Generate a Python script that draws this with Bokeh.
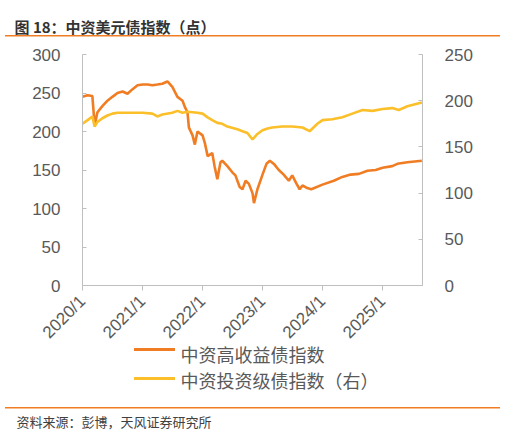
import pandas as pd
from bokeh.plotting import figure
from bokeh.models import (Range1d, LinearAxis, FixedTicker, Title)
from bokeh.embed import file_html
from bokeh.resources import INLINE

# ---------------- data ----------------
hy_dates = ["2020-01-01", "2020-02-01", "2020-03-01", "2020-03-15", "2020-04-01", "2020-05-01",
            "2020-06-01", "2020-07-01", "2020-08-01", "2020-09-01", "2020-10-01", "2020-11-01",
            "2020-12-01", "2021-01-01", "2021-02-01", "2021-03-01", "2021-04-01", "2021-05-01",
            "2021-06-01", "2021-07-01", "2021-08-01", "2021-09-01", "2021-09-15", "2021-10-01",
            "2021-10-10", "2021-11-01", "2021-11-15", "2021-12-01", "2022-01-01", "2022-01-15",
            "2022-02-01", "2022-03-01", "2022-03-15", "2022-04-01", "2022-04-20", "2022-05-01",
            "2022-06-01", "2022-07-01", "2022-07-20", "2022-08-15", "2022-09-01", "2022-09-20",
            "2022-10-10", "2022-11-01", "2022-11-10", "2022-12-01", "2023-01-01", "2023-01-25",
            "2023-02-15", "2023-03-15", "2023-04-10", "2023-05-10", "2023-06-10", "2023-07-01",
            "2023-07-25", "2023-08-15", "2023-09-01", "2023-09-25", "2023-10-25", "2024-01-01",
            "2024-03-10", "2024-05-01", "2024-06-20", "2024-08-10", "2024-10-01", "2024-11-20",
            "2025-01-01", "2025-03-01", "2025-04-01", "2025-06-01", "2025-08-28"]
hy_values = [245, 247, 246, 208, 225, 233,
             240, 245, 250, 252, 249, 255,
             260, 261, 261, 260, 261, 262,
             265, 258, 245, 240, 232, 225,
             205, 195, 183, 200, 195, 185,
             168, 172, 155, 138, 160, 162,
             155, 147, 143, 128, 125, 136,
             132, 120, 107, 125, 144, 158,
             162, 157, 150, 144, 136, 143,
             133, 125, 130, 127, 125, 131,
             136, 141, 144, 145, 149, 150,
             153, 155, 158, 160, 162]

ig_dates = ["2020-01-01", "2020-02-01", "2020-03-01", "2020-03-15", "2020-04-01", "2020-05-01",
            "2020-06-01", "2020-07-01", "2020-08-01", "2020-10-01", "2020-12-01", "2021-01-01",
            "2021-03-01", "2021-04-01", "2021-05-01", "2021-07-01", "2021-08-01", "2021-09-01",
            "2021-10-01", "2021-12-01", "2022-01-01", "2022-02-01", "2022-03-01", "2022-04-01",
            "2022-05-01", "2022-06-01", "2022-08-01", "2022-09-01", "2022-10-01", "2022-11-01",
            "2022-12-01", "2023-01-01", "2023-02-01", "2023-03-01", "2023-05-01", "2023-07-01",
            "2023-09-01", "2023-10-15", "2023-12-01", "2024-01-01", "2024-03-01", "2024-05-01",
            "2024-07-01", "2024-09-01", "2024-11-01", "2025-01-01", "2025-03-01", "2025-04-10",
            "2025-06-01", "2025-08-28"]
ig_values = [175, 179, 183, 172, 177, 181,
             184, 186, 187, 187, 187, 187,
             186, 183, 185, 187, 189, 187,
             188, 187, 186, 182, 179, 176,
             175, 172, 169, 167, 165, 158,
             164, 168, 170, 171, 172, 172,
             171, 167, 175, 179, 180, 182,
             186, 190, 189, 191, 192, 190,
             194, 198]

tick_dates = ["2020-01-01", "2021-01-01", "2022-01-01", "2023-01-01", "2024-01-01", "2025-01-01"]
tick_labels = ["2020/1", "2021/1", "2022/1", "2023/1", "2024/1", "2025/1"]

hy_name = "中资高收益债指数"
ig_name = "中资投资级债指数（右）"
title_text = "图 18：中资美元债指数（点）"
source_text = "资料来源：彭博，天风证券研究所"

# ---------------- styles ----------------
ORANGE = "#F07D23"
YELLOW = "#FBBF2A"
AXIS = "#BFBFBF"
TXT = "#595959"
FONT = "Liberation Sans"
CJK = "Noto Sans CJK SC"

hy_x = pd.to_datetime(hy_dates)
ig_x = pd.to_datetime(ig_dates)
tick_ms = [pd.Timestamp(d).value / 1e6 for d in tick_dates]

p = figure(width=500, height=434, x_axis_type="datetime",
           output_backend="svg", toolbar_location=None,
           min_border_left=82, min_border_right=78, min_border_top=50, min_border_bottom=149,
           x_range=Range1d(pd.Timestamp("2020-01-01"), pd.Timestamp("2025-09-01")),
           y_range=Range1d(0, 300))
p.extra_y_ranges = {"right": Range1d(0, 250)}
p.outline_line_color = None
p.xgrid.visible = False
p.ygrid.visible = False
p.background_fill_color = "white"
p.border_fill_alpha = 0
# decorative rules and legend keys (CSS background stripes on the plot element)
p.styles = {
    "background-image": ", ".join([f"linear-gradient({ORANGE},{ORANGE})"] * 3
                                  + [f"linear-gradient({YELLOW},{YELLOW})"]),
    "background-size": "497px 1.5px, 497px 1.5px, 41px 3px, 41px 3px",
    "background-position": "5px 35px, 5px 406.5px, 134px 348px, 134px 376.5px",
    "background-repeat": "no-repeat",
}

r_hy = p.line(hy_x, hy_values, line_color=ORANGE, line_width=2.6)
r_ig = p.line(ig_x, ig_values, line_color=YELLOW, line_width=2.6, y_range_name="right")

ya = p.yaxis[0]
ya.ticker = FixedTicker(ticks=[0, 50, 100, 150, 200, 250, 300])
ra = LinearAxis(y_range_name="right", ticker=FixedTicker(ticks=[0, 50, 100, 150, 200, 250]))
p.add_layout(ra, "right")
for a in (ya, ra):
    a.major_tick_in = 4
    a.major_tick_out = 0
    a.minor_tick_in = 0
    a.minor_tick_out = 0
    a.axis_line_color = AXIS
    a.major_tick_line_color = AXIS
    a.major_label_text_color = TXT
    a.major_label_text_font = FONT
    a.major_label_text_font_size = "17px"
    a.major_label_standoff = 22

xa = p.xaxis[0]
xa.ticker = FixedTicker(ticks=tick_ms)
xa.major_label_overrides = {t: l for t, l in zip(tick_ms, tick_labels)}
xa.major_tick_in = 0
xa.major_tick_out = 5
xa.minor_tick_in = 0
xa.minor_tick_out = 0
xa.axis_line_color = AXIS
xa.major_tick_line_color = AXIS
xa.major_label_text_color = TXT
xa.major_label_text_font = FONT
xa.major_label_text_font_size = "17px"
xa.major_label_orientation = 0.785398
xa.major_label_standoff = 8

# legend texts (keys are the CSS stripes above)
p.add_layout(Title(text=hy_name, align="left", offset=98,
                   text_font=CJK, text_font_size="18px", text_font_style="normal",
                   text_color=TXT, standoff=-30), "below")
p.add_layout(Title(text=ig_name, align="left", offset=98,
                   text_font=CJK, text_font_size="18px", text_font_style="normal",
                   text_color=TXT, standoff=26), "below")
p.add_layout(Title(text=source_text, align="left", offset=-66,
                   text_font=CJK, text_font_size="13px", text_font_style="normal",
                   text_color="#404040", standoff=8), "below")
p.add_layout(Title(text=title_text, align="left", offset=-68, vertical_align="top",
                   text_font=CJK, text_font_size="15px", text_font_style="bold",
                   text_color="#333333", standoff=31), "above")

open("out.html", "w").write(file_html(p, INLINE))
